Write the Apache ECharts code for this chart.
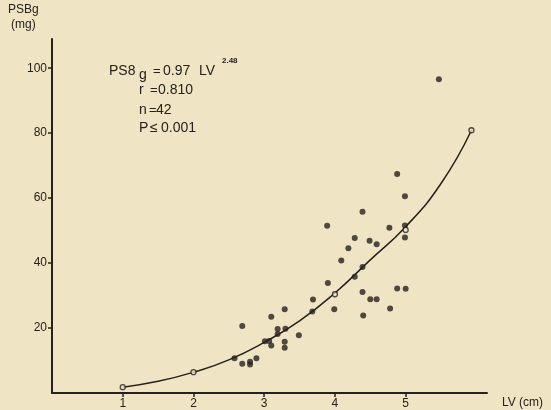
<!DOCTYPE html>
<html><head><meta charset="utf-8">
<script src="https://cdn.jsdelivr.net/npm/echarts@6/dist/echarts.min.js"></script>
<style>html,body{margin:0;padding:0;background:#efe5c5;}#c{width:551px;height:410px;}</style>
</head><body><div id="c"></div>
<script>
// Measured points (LV cm, PSBg mg)
const lvValues = [4.39,3.89,4.77,4.28,4.49,4.59,4.19,4.09,4.39,4.28,3.90,4.88,4.39,4.50,4.59,3.69,3.29,3.99,3.68,4.78,4.40,3.10,2.69,3.19,3.30,3.19,3.49,3.01,3.07,3.10,3.29,3.29,2.58,2.69,2.80,2.80,2.89,5.47,4.88,4.99,4.99,4.99,5.00];
const psbValues = [55.8,51.5,50.9,47.7,46.9,45.8,44.6,40.8,38.8,35.8,33.9,32.2,31.1,28.9,28.9,28.8,25.8,25.8,25.1,26.0,23.9,23.5,20.6,19.7,19.8,18.2,17.8,15.9,16.0,14.6,15.8,13.9,10.7,9.0,9.6,8.8,10.7,96.6,67.4,60.6,51.6,47.9,32.1];
// Fitted curve
const curveLV = [1,1.5,2,2.5,3,3.5,4,4.5,5,5.5,5.93];
const curvePSB = [1.8,3.6,6.4,10.2,15.6,22.2,30.8,41.0,51.2,64.5,80.9];
// Open circles on the curve
const openLV = [1,2,4,5,5.93];
const openPSB = [1.8,6.4,30.4,50.2,80.9];
const xTicks = [1,2,3,4,5];
const yTicks = [20,40,60,80,100];

const ink = '#26211d';
const bg = '#efe5c5';
const chart = echarts.init(document.getElementById('c'), null, {renderer:'canvas'});
const font = 'Liberation Sans, Arial, sans-serif';
function t(x, y, s, size, weight) {
  return {type:'text',x:x,y:y,style:{text:s,fill:ink,font:(weight||'normal')+' '+size+'px '+font,textVerticalAlign:'middle'}};
}
chart.setOption({
  backgroundColor:bg,
  animation:false,
  grid:{left:52,right:64,top:39,bottom:17,containLabel:false},
  xAxis:{type:'value',min:0,max:6.15,
    axisLine:{lineStyle:{color:ink,width:2}},
    axisTick:{customValues:xTicks,length:4,lineStyle:{color:ink,width:1.5}},
    axisLabel:{customValues:xTicks,color:ink,fontSize:12,fontFamily:font,margin:5},
    splitLine:{show:false}},
  yAxis:{type:'value',min:0,max:109,
    axisLine:{show:true,lineStyle:{color:ink,width:2}},
    axisTick:{show:true,customValues:yTicks,length:4,lineStyle:{color:ink,width:1.5}},
    axisLabel:{customValues:yTicks,color:ink,fontSize:12,fontFamily:font,margin:5},
    splitLine:{show:false}},
  series:[
    {type:'line',data:curveLV.map((x,i)=>[x,curvePSB[i]]),smooth:true,showSymbol:false,
      lineStyle:{color:ink,width:1.5},z:2},
    {type:'scatter',data:lvValues.map((x,i)=>[x,psbValues[i]]),symbol:'circle',symbolSize:6,
      itemStyle:{color:ink},z:3},
    {type:'scatter',data:openLV.map((x,i)=>[x,openPSB[i]]),symbol:'circle',symbolSize:5,
      itemStyle:{color:bg,borderColor:ink,borderWidth:1.3},z:4}
  ],
  graphic:[
    t(8,10,'PSBg',12),
    t(11,25,'(mg)',12),
    t(502,403,'LV (cm)',12),
    t(109,71,'PS8',14),
    t(139,75,'g',14),
    t(153,71,'=',13),
    t(163,71,'0.97',14),
    t(199,71,'LV',14),
    t(222,61,'2.48',8,'bold'),
    t(139,90,'r',14),
    t(150,90,'=',13),
    t(158,90,'0.810',14),
    t(139,110,'n',14),
    t(149,110,'=',13),
    t(156,110,'42',14),
    t(139,128,'P',14),
    t(150,128,'≤',14),
    t(161,128,'0.001',14)
  ]
});
</script></body></html>
